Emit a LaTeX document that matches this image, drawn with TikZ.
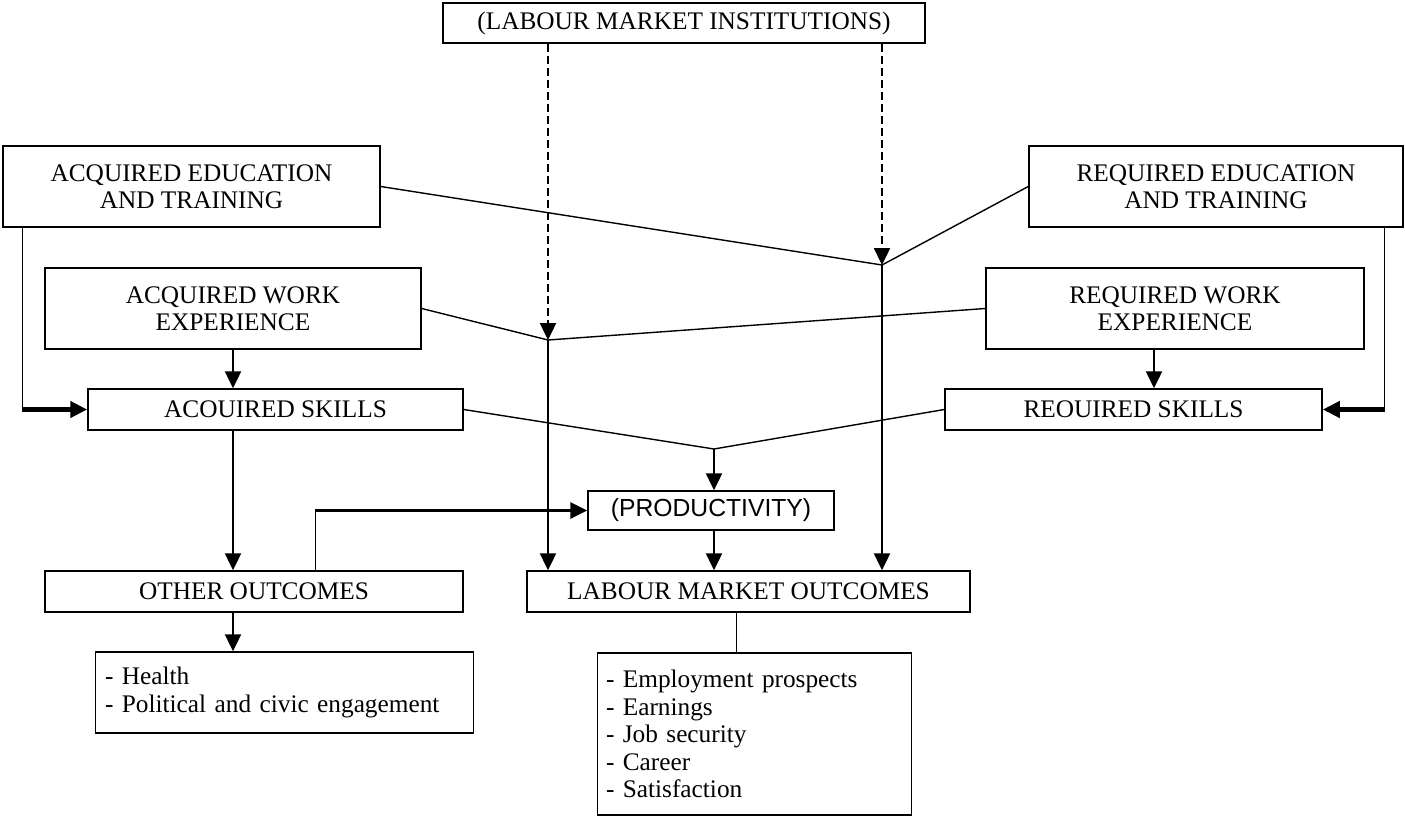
\documentclass[tikz,border=0pt]{standalone}
\usepackage{fontspec}
\setmainfont{Liberation Serif}
\newfontfamily\sansf{Liberation Sans}
\usetikzlibrary{arrows.meta,calc}
\begin{document}
\begin{tikzpicture}[x=1pt,y=-1pt,
  every node/.style={font=\fontsize{25.3}{27.5}\selectfont},
  box/.style={draw, line width=1.5pt, inner sep=0pt, align=center},
  thinline/.style={line width=1.4pt},
  tip/.style={-{Triangle[length=17pt,width=16pt]}},
  arr/.style={line width=2.4pt, tip},
  dasharr/.style={line width=2.4pt, dash pattern=on 8pt off 4pt, tip},
  thickarr/.style={line width=4.2pt, tip}]
\useasboundingbox (0,0) rectangle (1405,817);
% boxes
\node[box, minimum width=482pt, minimum height=40pt] (lmi) at (684,23) {\raisebox{-5pt}{(LABOUR MARKET INSTITUTIONS)}};
\node[box, minimum width=377pt, minimum height=81pt] (aet) at (191.5,186.5) {ACQUIRED EDUCATION\\AND TRAINING};
\node[box, minimum width=376pt, minimum height=81pt] (awe) at (233,308.5) {ACQUIRED WORK\\EXPERIENCE};
\node[box, minimum width=375pt, minimum height=41pt] (as) at (275.5,409.5) {ACOUIRED SKILLS};
\node[box, minimum width=374pt, minimum height=81pt] (ret) at (1216,186.5) {REQUIRED EDUCATION\\AND TRAINING};
\node[box, minimum width=378pt, minimum height=81pt] (rwe) at (1175,308.5) {REQUIRED WORK\\EXPERIENCE};
\node[box, minimum width=377pt, minimum height=41pt] (rs) at (1133.5,409.5) {REOUIRED SKILLS};
\node[box, minimum width=246pt, minimum height=39pt, font=\sansf\fontsize{24.7}{27}\selectfont] (prod) at (711,510.5) {\raisebox{-5pt}{(PRODUCTIVITY)}};
\node[box, minimum width=418pt, minimum height=41pt] (oo) at (254,591.5) {OTHER OUTCOMES};
\node[box, minimum width=443pt, minimum height=41pt] (lmo) at (748.5,591.5) {LABOUR MARKET OUTCOMES};
\node[box, minimum width=378pt, minimum height=81pt, align=left, text width=359pt, inner xsep=0pt] (oth) at (284.5,692.5) {- Health\\- Political and civic engagement};
\node[box, minimum width=314pt, minimum height=162pt, align=left, text width=297pt, inner xsep=0pt] (lmol) at (754.5,734) {- Employment prospects\\- Earnings\\- Job security\\- Career\\- Satisfaction};
% junctions
\coordinate (j1) at (882,265);
\coordinate (j2) at (548,340);
\coordinate (j3) at (714,449);
% diagonal lines
\draw[thinline] (aet.east) -- (j1) -- (ret.west);
\draw[thinline] (awe.east) -- (j2) -- (rwe.west);
\draw[thinline] (as.east) -- (j3) -- (rs.west);
% dashed from institutions
\draw[dasharr] (lmi.south -| j2) -- (j2);
\draw[dasharr] (lmi.south -| j1) -- (j1);
\draw[arr] (j2) -- (lmo.north -| j2);
\draw[arr] (j1) -- (lmo.north -| j1);
\draw[arr] (j3) -- (prod.north -| j3);
\draw[arr] (prod.south -| j3) -- (lmo.north -| j3);
% work experience to skills
\draw[arr] (awe.south) -- (awe.south |- as.north);
\path ([xshift=-21pt]rwe.south) coordinate (rweout);
\draw[arr] (rweout) -- (rweout |- rs.north);
% education to skills
\path ([xshift=20pt]aet.south west) coordinate (aetout);
\coordinate (c1) at (aetout |- as.west);
\draw[thinline] (aetout) -- (c1);
\draw[thickarr] (c1) -- (as.west);
\path ([xshift=-19pt]ret.south east) coordinate (retout);
\coordinate (c2) at (retout |- rs.east);
\draw[thinline] (retout) -- (c2);
\draw[thickarr] (c2) -- (rs.east);
% skills to other outcomes
\draw[arr] (as.south -| awe.south) -- (oo.north -| awe.south);
\draw[arr] (oo.south -| awe.south) -- (oth.north -| awe.south);
% other outcomes to productivity
\path ([xshift=271pt]oo.north west) coordinate (ooout);
\coordinate (c3) at (ooout |- prod.west);
\draw[thinline] (ooout) -- (c3);
\draw[line width=3.4pt, tip] (c3) -- (prod.west);
% labour market outcomes to list
\path ([xshift=-12pt]lmo.south) coordinate (lmoout);
\draw[thinline] (lmoout) -- (lmoout |- lmol.north);
\end{tikzpicture}
\end{document}
